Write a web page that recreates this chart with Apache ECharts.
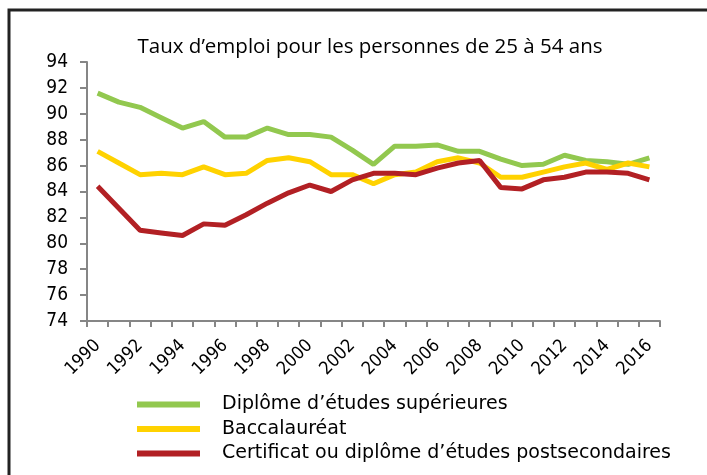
<!DOCTYPE html>
<html>
<head>
    <meta charset="UTF-8">
    <script src="https://cdn.jsdelivr.net/npm/echarts@6/dist/echarts.min.js"></script>
    <style>
        html, body { margin: 0; padding: 0; background: #fff; }
        #main { width: 707px; height: 475px; }
    </style>
</head>
<body>
<div id="main"></div>
<script type="text/javascript">
    var years = ['1990', '1991', '1992', '1993', '1994', '1995', '1996', '1997', '1998', '1999',
        '2000', '2001', '2002', '2003', '2004', '2005', '2006', '2007', '2008', '2009',
        '2010', '2011', '2012', '2013', '2014', '2015', '2016'];
    var superieures = [91.6, 90.9, 90.5, 89.7, 88.9, 89.4, 88.2, 88.2, 88.9, 88.4,
        88.4, 88.2, 87.2, 86.1, 87.5, 87.5, 87.6, 87.1, 87.1, 86.5,
        86.0, 86.1, 86.8, 86.4, 86.3, 86.1, 86.6];
    var baccalaureat = [87.1, 86.2, 85.3, 85.4, 85.3, 85.9, 85.3, 85.4, 86.4, 86.6,
        86.3, 85.3, 85.3, 84.6, 85.3, 85.5, 86.3, 86.6, 86.2, 85.1,
        85.1, 85.5, 85.9, 86.2, 85.7, 86.2, 85.9];
    var certificat = [84.4, 82.7, 81.0, 80.8, 80.6, 81.5, 81.4, 82.2, 83.1, 83.9,
        84.5, 84.0, 84.9, 85.4, 85.4, 85.3, 85.8, 86.2, 86.4, 84.3,
        84.2, 84.9, 85.1, 85.5, 85.5, 85.4, 84.9];
    var seriesNames = ['Diplôme d\u2019études supérieures', 'Baccalauréat',
        'Certificat ou diplôme d\u2019études postsecondaires'];
    var seriesColors = ['#92C84F', '#FFD200', '#B22024'];

    var myChart = echarts.init(document.getElementById('main'));
    var condensed = '"DejaVu Sans Condensed", "DejaVu Sans", sans-serif';

    function makeLine(i, data) {
        return {
            name: seriesNames[i],
            type: 'line',
            data: data,
            symbol: 'none',
            lineStyle: {width: 5, color: seriesColors[i]},
            itemStyle: {color: seriesColors[i]}
        };
    }

    var option = {
        animation: false,
        backgroundColor: '#fff',
        title: {
            text: 'Taux d\u2019emploi pour les personnes de 25 à 54 ans',
            left: 365,
            textAlign: 'center',
            top: 32,
            textStyle: {fontFamily: '"Open Sans", sans-serif', fontSize: 20.5, fontWeight: 'normal', color: '#000'}
        },
        graphic: [{
            type: 'rect',
            shape: {x: 9, y: 10, width: 800, height: 600},
            style: {fill: 'none', stroke: '#222', lineWidth: 3}
        }],
        legend: {
            orient: 'vertical',
            left: 137,
            top: 395,
            padding: 0,
            itemWidth: 63,
            itemHeight: 6,
            itemGap: 5.5,
            icon: 'rect',
            textStyle: {fontFamily: '"DejaVu Sans", sans-serif', fontSize: 19, color: '#000', padding: [0, 0, 0, 17]},
            data: seriesNames
        },
        grid: {left: 87, right: 47, top: 62, bottom: 154},
        xAxis: {
            type: 'category',
            data: years,
            boundaryGap: true,
            axisLine: {lineStyle: {color: '#868686', width: 2}},
            axisTick: {show: true, interval: 0, length: 6, lineStyle: {color: '#868686', width: 2}},
            axisLabel: {
                interval: 1, rotate: 45, margin: 22,
                color: '#000', fontFamily: condensed, fontSize: 18
            }
        },
        yAxis: {
            type: 'value',
            min: 74,
            max: 94,
            interval: 2,
            splitLine: {show: false},
            axisLine: {show: true, lineStyle: {color: '#868686', width: 2}},
            axisTick: {show: true, length: 7, lineStyle: {color: '#868686', width: 2}},
            axisLabel: {margin: 19, color: '#000', fontFamily: condensed, fontSize: 19}
        },
        series: [
            makeLine(0, superieures),
            makeLine(1, baccalaureat),
            makeLine(2, certificat)
        ]
    };
    myChart.setOption(option);
</script>
</body>
</html>
